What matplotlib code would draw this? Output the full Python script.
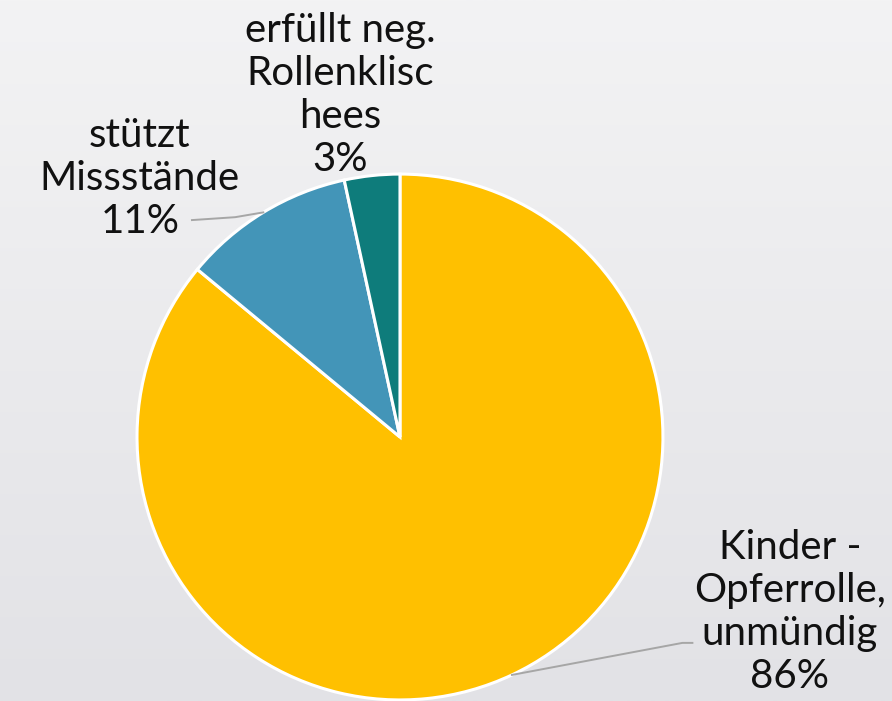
import numpy as np
import matplotlib.pyplot as plt

# data
labels = ['Kinder -\nOpferrolle,\nunmündig', 'stützt\nMissstände', 'erfüllt neg.\nRollenklisc\nhees']
values = [86.0, 10.6, 3.4]
colors = ['#FFC000', '#4395B8', '#0E7C7B']

fig = plt.figure(figsize=(8.92, 7.01), dpi=100)
ax = fig.add_axes([0, 0, 1, 1])

# light grey gradient background
grad = np.linspace(0, 1, 256).reshape(-1, 1)
bg = np.array([243, 243, 244]) / 255 * (1 - grad[..., None]) + np.array([226, 226, 230]) / 255 * grad[..., None]
ax.imshow(bg, extent=[-1.521, 1.871, -1.004, 1.662], aspect='auto', zorder=0)

wedges, _ = ax.pie(values, colors=colors, startangle=90, counterclock=False,
                   radius=1.0, wedgeprops=dict(edgecolor='white', linewidth=2.2))
for w in wedges:
    w.set_zorder(2)

ax.set_xlim(-1.521, 1.871)
ax.set_ylim(-1.004, 1.662)
ax.set_aspect('auto')
ax.axis('off')

pcts = [round(v / sum(values) * 100) for v in values]
texts = [f'{l}\n{p}%' for l, p in zip(labels, pcts)]
label_pos = [(1.483, -0.665), (-0.989, 0.985), (-0.228, 1.300)]
font = dict(fontsize=29, family=['Lato', 'DejaVu Sans'], color='#111111',
            ha='center', va='center', linespacing=1.2)

for i, (w, t, (lx, ly)) in enumerate(zip(wedges, texts, label_pos)):
    ax.text(lx, ly, t, zorder=4, **font)
    mid = np.deg2rad((w.theta1 + w.theta2) / 2)
    ex, ey = np.cos(mid), np.sin(mid)
    if i == 0:
        ax.plot([ex, 1.074, 1.112], [ey, -0.783, -0.783], color='#A6A6A6', lw=1.4, zorder=3)
    elif i == 1:
        ax.plot([ex, -0.627, -0.791], [ey, 0.836, 0.825], color='#A6A6A6', lw=1.4, zorder=3)

fig.savefig('out.png', dpi=100)
